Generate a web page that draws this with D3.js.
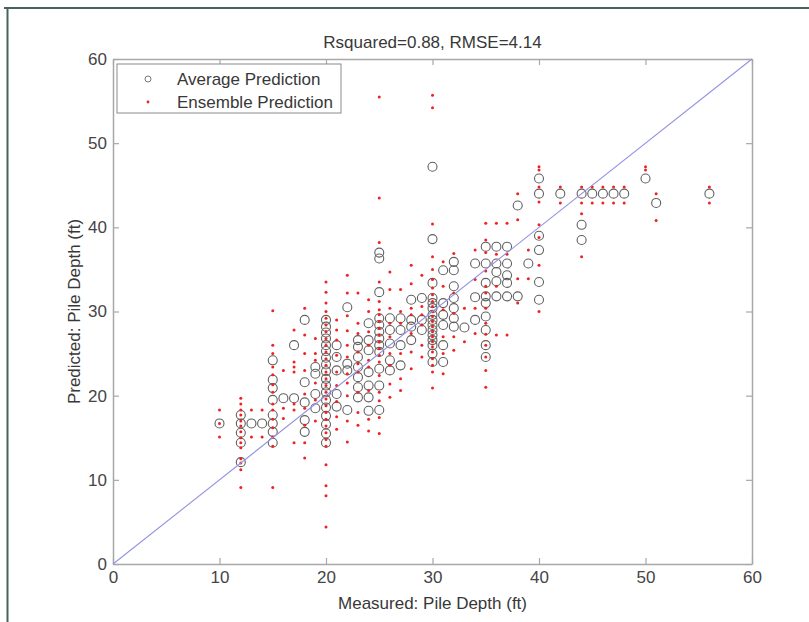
<!DOCTYPE html>
<html>
<head>
<meta charset="utf-8">
<script src="https://cdn.jsdelivr.net/npm/d3@7"></script>
<style>
  body { margin: 0; background: #fff; }
  text { font-family: "Liberation Sans", Arial, sans-serif; }
</style>
</head>
<body>
<svg id="chart" width="809" height="622"></svg>
<script>
// Chart data
var chartTitle = "Rsquared=0.88, RMSE=4.14";
var xTicks = [0, 10, 20, 30, 40, 50, 60];
var yTicks = [0, 10, 20, 30, 40, 50, 60];
var legendLabels = ["Average Prediction", "Ensemble Prediction"];

// measured pile depth (ft), one entry per column of points
var measuredDepth = [10, 12, 13, 14, 15, 16, 17, 18, 19, 20,
                     21, 22, 23, 24, 25, 26, 27, 28, 29, 30,
                     31, 32, 33, 34, 35, 36, 37, 38, 39, 40,
                     42, 44, 45, 46, 47, 48, 50, 51, 56];

// average prediction (open circles) for each measured depth
var averagePrediction = [
  [16.7],
  [17.7, 16.7, 15.6, 14.4, 12.1],
  [16.7],
  [16.7],
  [24.2, 21.9, 20.9, 19.5, 17.7, 16.7, 15.7, 14.4],
  [19.7],
  [26.0, 19.7],
  [29.0, 21.6, 19.2, 17.1, 15.7],
  [23.4, 22.6, 20.2, 18.5],
  [29.0, 28.2, 27.5, 26.8, 26.0, 25.3, 24.5, 23.7, 22.9, 22.0, 21.2, 20.4, 19.5, 18.6, 17.6, 16.6, 15.5, 14.4],
  [26.0, 24.6, 23.0, 20.2, 18.7],
  [30.5, 23.8, 23.0, 18.3],
  [26.6, 25.8, 24.6, 23.4, 22.2, 21.0, 19.8],
  [28.6, 26.6, 25.4, 22.8, 21.2, 19.8, 18.2],
  [37.0, 36.3, 32.3, 29.2, 28.4, 27.6, 26.8, 26.0, 25.2, 23.2, 21.2, 18.3],
  [29.2, 27.8, 26.2, 24.2, 23.0],
  [29.2, 27.8, 26.0, 23.6],
  [31.4, 29.0, 28.2, 26.6],
  [31.6, 29.0, 27.8],
  [47.2, 38.6, 33.4, 31.6, 31.0, 30.4, 29.6, 29.0, 28.4, 27.8, 27.2, 26.6, 26.0, 25.0, 24.0],
  [34.9, 31.0, 29.6, 28.4, 26.0, 24.0],
  [35.9, 34.9, 33.0, 31.6, 30.4, 29.2, 28.2],
  [28.1],
  [35.7, 31.7, 29.0],
  [37.7, 35.7, 33.4, 31.8, 31.0, 29.4, 27.8, 26.0, 24.6],
  [37.7, 35.7, 34.7, 33.6, 31.8],
  [37.7, 35.7, 34.3, 33.4, 31.8],
  [42.6, 31.8],
  [35.7],
  [45.8, 44.0, 39.0, 37.3, 33.5, 31.4],
  [44.0],
  [44.0, 40.3, 38.5],
  [44.0],
  [44.0],
  [44.0],
  [44.0],
  [45.8],
  [42.9],
  [44.0]
];

// ensemble member predictions (red dots) for each measured depth
var ensemblePrediction = [
  [18.3, 16.7, 15.1],
  [19.7, 19.0, 18.3, 17.7, 17.0, 16.4, 15.7, 15.0, 14.4, 13.8, 12.5, 12.0, 11.2, 9.1],
  [18.3, 15.1],
  [18.3, 15.1],
  [30.1, 26.0, 25.0, 23.4, 22.5, 21.3, 20.4, 19.0, 18.3, 17.2, 16.2, 15.1, 14.0, 9.1],
  [23.0, 18.5, 17.3],
  [27.8, 24.0, 23.4, 22.8, 19.0, 18.3, 14.4],
  [30.4, 27.2, 25.0, 23.0, 20.2, 18.5, 16.5, 14.4, 12.6],
  [26.8, 25.0, 24.2, 21.5, 19.5, 17.0],
  [33.5, 32.3, 31.0, 30.0, 29.2, 28.4, 27.6, 26.8, 26.0, 25.2, 24.4, 23.6, 22.8, 22.0, 21.2, 20.4, 19.6, 18.8, 18.0, 17.2, 16.4, 15.6, 14.8, 14.0, 11.8, 9.3, 8.1, 4.4],
  [29.0, 27.8, 26.6, 24.8, 22.8, 21.2, 19.3, 17.5, 16.0],
  [34.3, 32.2, 29.5, 27.7, 26.0, 24.6, 22.6, 21.5, 20.0, 17.0, 14.5],
  [32.2, 28.6, 27.4, 25.2, 23.8, 22.8, 20.4, 18.0, 16.5],
  [31.4, 30.0, 27.6, 26.0, 24.2, 23.4, 20.6, 17.2, 15.8],
  [55.5, 43.5, 38.2, 33.5, 31.2, 30.2, 29.6, 28.8, 28.0, 27.2, 26.4, 25.6, 24.8, 24.0, 22.4, 20.4, 19.4, 17.4, 15.5],
  [34.7, 32.6, 30.4, 28.6, 27.0, 25.0, 23.6, 21.4, 19.8],
  [32.6, 30.0, 28.6, 25.0, 22.0, 20.6],
  [35.5, 33.3, 30.4, 29.6, 27.4, 25.2, 23.2],
  [34.3, 30.6, 29.6, 28.4, 26.0, 24.6],
  [55.7, 54.2, 40.4, 36.5, 35.0, 33.8, 32.8, 32.0, 31.2, 30.6, 30.0, 29.4, 28.8, 28.2, 27.6, 27.0, 26.4, 25.8, 25.2, 24.4, 23.6, 22.8, 20.9],
  [35.9, 33.0, 30.2, 27.0, 25.0, 22.6],
  [36.9, 32.2, 29.8, 27.0, 25.4],
  [30.4, 26.4],
  [37.3, 33.8, 30.4, 27.4],
  [40.5, 38.5, 37.0, 34.8, 33.0, 32.2, 30.4, 28.6, 27.3, 26.0, 24.6, 23.0, 21.0],
  [40.5, 36.8, 33.0, 27.2],
  [40.5, 36.8, 27.2],
  [44.0, 40.9, 33.9, 31.0],
  [37.3, 33.9],
  [47.2, 46.8, 44.8, 43.0, 40.3, 38.8, 35.5, 30.0],
  [44.8, 42.9],
  [44.8, 42.9, 41.6, 36.5],
  [44.8, 42.9],
  [44.8, 42.9],
  [44.8, 42.9],
  [44.8, 42.9],
  [47.2, 46.8],
  [44.0, 40.8],
  [44.8, 42.9]
];

// Layout
var plot = { left: 113, right: 752, top: 59, bottom: 564 };
var tickLen = 6;
var fontSize = 17;

var svg = d3.select("#chart");

// outer frame of the figure (top and left edge)
svg.append("line").attr("x1", 4).attr("x2", 809).attr("y1", 8).attr("y2", 8)
  .attr("stroke", "#48625f").attr("stroke-width", 2);
svg.append("line").attr("x1", 7.5).attr("x2", 7.5).attr("y1", 8).attr("y2", 622)
  .attr("stroke", "#48625f").attr("stroke-width", 2);

var x = d3.scaleLinear().domain([0, 60]).range([plot.left, plot.right]);
var y = d3.scaleLinear().domain([0, 60]).range([plot.bottom, plot.top]);

// flatten the columns into point lists
var avgPoints = [], ensPoints = [];
measuredDepth.forEach(function (m, i) {
  averagePrediction[i].forEach(function (p) { avgPoints.push([m, p]); });
  ensemblePrediction[i].forEach(function (p) { ensPoints.push([m, p]); });
});

// axes box
var axisColor = "#a8a8a8";
var textColor = "#454545";

var xAxisB = d3.axisBottom(x).tickValues(xTicks).tickSizeInner(-tickLen).tickSizeOuter(0).tickPadding(7);
var xAxisT = d3.axisTop(x).tickValues(xTicks).tickSizeInner(-tickLen).tickSizeOuter(0).tickFormat("");
var yAxisL = d3.axisLeft(y).tickValues(yTicks).tickSizeInner(-tickLen).tickSizeOuter(0).tickPadding(6);
var yAxisR = d3.axisRight(y).tickValues(yTicks).tickSizeInner(-tickLen).tickSizeOuter(0).tickFormat("");

function styleAxis(g) {
  g.select(".domain").attr("stroke", axisColor).attr("stroke-width", 1.5);
  g.selectAll(".tick line").attr("stroke", axisColor).attr("stroke-width", 1.2);
  g.selectAll(".tick text").attr("fill", textColor).style("font-size", fontSize + "px")
    .style("font-family", "'Liberation Sans', Arial, sans-serif");
}

svg.append("g").attr("transform", "translate(0," + plot.bottom + ")").call(xAxisB).call(styleAxis);
svg.append("g").attr("transform", "translate(0," + plot.top + ")").call(xAxisT).call(styleAxis);
svg.append("g").attr("transform", "translate(" + plot.left + ",0)").call(yAxisL).call(styleAxis);
svg.append("g").attr("transform", "translate(" + plot.right + ",0)").call(yAxisR).call(styleAxis);

// average prediction circles
svg.append("g").selectAll("circle").data(avgPoints).join("circle")
  .attr("cx", function (d) { return x(d[0]); })
  .attr("cy", function (d) { return y(d[1]); })
  .attr("r", 4.5)
  .attr("fill", "none")
  .attr("stroke", "#606060")
  .attr("stroke-width", 1.1);

// ensemble prediction dots
svg.append("g").selectAll("circle").data(ensPoints).join("circle")
  .attr("cx", function (d) { return x(d[0]); })
  .attr("cy", function (d) { return y(d[1]); })
  .attr("r", 1.5)
  .attr("fill", "#ee2222");

// 1:1 line
svg.append("line")
  .attr("x1", x(0)).attr("y1", y(0)).attr("x2", x(60)).attr("y2", y(60))
  .attr("stroke", "#9292e2").attr("stroke-width", 1.1);

// title and axis labels
svg.append("text").attr("x", (plot.left + plot.right) / 2).attr("y", 48)
  .attr("text-anchor", "middle").attr("fill", "#383838").style("font-size", fontSize + "px")
  .text(chartTitle);
svg.append("text").attr("x", (plot.left + plot.right) / 2).attr("y", 609)
  .attr("text-anchor", "middle").attr("fill", "#383838").style("font-size", fontSize + "px")
  .text("Measured: Pile Depth (ft)");
svg.append("text")
  .attr("transform", "translate(80," + (plot.top + plot.bottom) / 2 + ") rotate(-90)")
  .attr("text-anchor", "middle").attr("fill", "#383838").style("font-size", fontSize + "px")
  .text("Predicted: Pile Depth (ft)");

// legend
var legend = svg.append("g");
legend.append("rect").attr("x", 117).attr("y", 64).attr("width", 224).attr("height", 49)
  .attr("fill", "#fff").attr("stroke", "#8a8a8a").attr("stroke-width", 1);
legend.append("circle").attr("cx", 148).attr("cy", 79).attr("r", 3)
  .attr("fill", "none").attr("stroke", "#777").attr("stroke-width", 1);
legend.append("circle").attr("cx", 148).attr("cy", 102).attr("r", 1.4).attr("fill", "#ee2222");
legend.selectAll("text.lbl").data(legendLabels).join("text")
  .attr("class", "lbl")
  .attr("x", 177)
  .attr("y", function (d, i) { return 85 + i * 23; })
  .attr("fill", "#383838").style("font-size", fontSize + "px")
  .text(function (d) { return d; });
</script>
</body>
</html>
